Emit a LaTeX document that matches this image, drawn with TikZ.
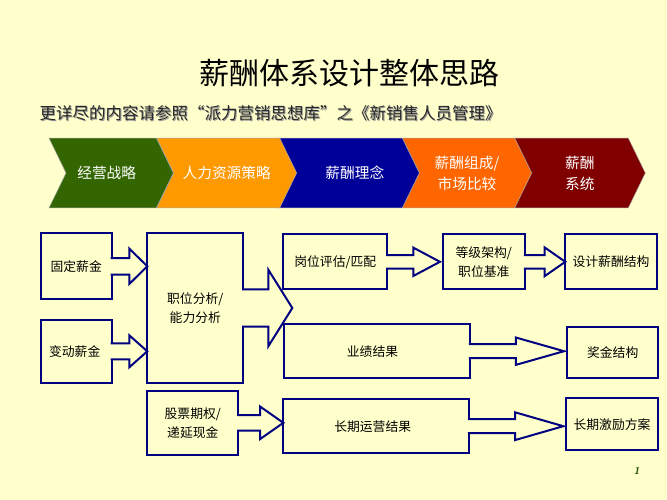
\documentclass[tikz,border=0pt]{standalone}
\usepackage{fontspec}
\setmainfont{Noto Sans CJK SC}
\usetikzlibrary{shapes.symbols,calc}
\definecolor{paper}{HTML}{FFFFCC}
\definecolor{boxline}{HTML}{000080}
\definecolor{stratgreen}{HTML}{336600}
\definecolor{hrorange}{HTML}{FF9900}
\definecolor{ideablue}{HTML}{000099}
\definecolor{mixorange}{HTML}{FF6600}
\definecolor{sysred}{HTML}{800000}
% source box, target, half shaft, half head, head length, gap before target
\newcommand{\blockarrow}[6]{
  \path [draw=boxline, line width=2pt, fill=paper]
    let \p1=(#1.east), \p2=(#2) in
    (\x1-1.2pt,\y1+#3pt) -- (\x2-#6pt-#5pt,\y1+#3pt) -- (\x2-#6pt-#5pt,\y1+#4pt)
    -- (\x2-#6pt,\y1) -- (\x2-#6pt-#5pt,\y1-#4pt) -- (\x2-#6pt-#5pt,\y1-#3pt) -- (\x1-1.2pt,\y1-#3pt);
}

\begin{document}
\begin{tikzpicture}
  [x=1pt, y=-1pt,
  title/.style={font=\fontsize{30}{32}\selectfont, inner sep=0pt},
  subtitle/.style={font=\fontsize{16.5}{18}\selectfont, inner sep=0pt},
  chevron/.style={signal, signal from=west, signal to=east, signal pointer angle=128,
    draw=black!35, line width=0.5pt, inner sep=0pt, outer sep=0pt, minimum height=69.7pt,
    text=white, align=center, font=\fontsize{14.7}{21}\selectfont},
  block/.style={rectangle, draw=boxline, line width=2pt, fill=paper, align=center,
    inner sep=0pt, outer sep=0pt, font=\fontsize{12.8}{19}\selectfont}]
  \useasboundingbox [fill=paper] (0,0) rectangle (667,500);

  % title lines
  \node [title] (maintitle) at (349.5,73) {薪酬体系设计整体思路};
  \node [subtitle, text=black!40] (subshadow) at (271.5,114.5) {更详尽的内容请参照“派力营销思想库”之《新销售人员管理》};
  \node [subtitle, text=black!85] (subline) at (270.5,113.5) {更详尽的内容请参照“派力营销思想库”之《新销售人员管理》};

  % top band
  \node [chevron, fill=sysred, minimum width=131pt] (system) at (579.8,173) {薪酬\\系统};
  \node [chevron, fill=mixorange, minimum width=129.4pt] (mix) at (467,173) {薪酬组成/\\市场比较};
  \node [chevron, fill=ideablue, minimum width=142pt] (idea) at (348.3,173) {\hspace*{13pt}薪酬理念};
  \node [chevron, fill=hrorange, minimum width=140pt] (hr) at (226.7,173) {人力资源策略};
  \node [chevron, fill=stratgreen, minimum width=124.3pt] (strategy) at (111.2,173) {经营战略\hspace*{9pt}};

  % left column
  \node [block, minimum width=71pt, minimum height=66pt] (fixed) at (76.2,266.3) {固定薪金};
  \node [block, minimum width=71pt, minimum height=62.7pt] (variable) at (76.2,351.3) {变动薪金\hspace*{3pt}};
  \node [block, minimum width=96pt, minimum height=149.4pt] (job) at (195.3,308) {职位分析/\\能力分析};
  \node [block, minimum width=91pt, minimum height=63.7pt] (stock) at (192.8,422.8) {股票期权/\\递延现金};

  % middle column
  \node [block, minimum width=104pt, minimum height=55pt] (evaluate) at (335.3,261.8) {岗位评估/匹配};
  \node [block, minimum width=82.3pt, minimum height=55pt] (grade) at (483.8,261.8) {等级架构/\\职位基准};
  \node [block, minimum width=186pt, minimum height=54.3pt] (result) at (377,351.2) {业绩结果\hspace*{9pt}};
  \node [block, minimum width=185.7pt, minimum height=54.3pt] (longterm) at (376.2,426.2) {长期运营结果\hspace*{7pt}};

  % right column
  \node [block, minimum width=91.4pt, minimum height=55pt] (design) at (611,261.8) {设计薪酬结构};
  \node [block, minimum width=91.3pt, minimum height=51.6pt] (bonus) at (612.7,352.5) {奖金结构};
  \node [block, minimum width=91.4pt, minimum height=52pt] (incentive) at (612,424.3) {长期激励方案};

  \coordinate (jobtip) at (292.3,308);

  \blockarrow{fixed}{job.west}{8.3}{17.7}{18}{0}
  \blockarrow{variable}{job.west}{8}{16}{18}{0}
  \blockarrow{job}{jobtip}{18.6}{38.3}{24}{0}
  \blockarrow{stock}{longterm.west}{7.8}{16.3}{23.3}{0}
  \blockarrow{evaluate}{grade.west}{6.7}{14.2}{26.7}{2.7}
  \blockarrow{grade}{design.west}{6.7}{14.4}{20.7}{0}
  \blockarrow{result}{bonus.west}{7}{13.7}{48.3}{3}
  \blockarrow{longterm}{incentive.west}{7}{13.9}{48.3}{3}

  \node [inner sep=0pt, text=stratgreen!80!black, font=\sffamily\itshape\bfseries\fontsize{10}{11}\selectfont] (pagenum) at (636.7,470.7) {1};
\end{tikzpicture}
\end{document}
